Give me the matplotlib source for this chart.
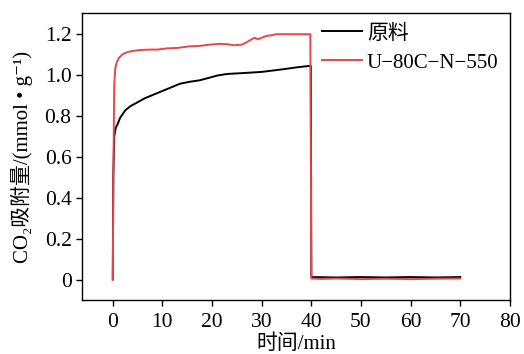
import matplotlib
matplotlib.use("Agg")
import matplotlib.pyplot as plt

plt.rcParams['font.family'] = ['Liberation Serif', 'Noto Sans CJK SC', 'DejaVu Serif']
plt.rcParams['axes.unicode_minus'] = True

# 原料 (raw material)
t_raw = [0, 0.1, 0.3, 0.6, 1.0, 1.5, 2.5, 3.5, 5, 6.5, 8, 9.5, 11.5, 13.5, 15.5,
         17.5, 19.5, 21, 23, 26, 30, 34, 37, 39.5, 39.9, 40.0, 45, 50, 55, 60, 65, 70]
q_raw = [0, 0.5, 0.70, 0.74, 0.76, 0.79, 0.825, 0.845, 0.865, 0.885, 0.90, 0.915,
         0.935, 0.955, 0.965, 0.972, 0.985, 0.995, 1.003, 1.007, 1.013, 1.025, 1.035,
         1.042, 1.042, 0.012, 0.010, 0.012, 0.010, 0.012, 0.010, 0.012]

# U-80C-N-550
t_mod = [0, 0.15, 0.3, 0.5, 0.8, 1.2, 2, 3, 4, 5.5, 7.5, 9, 11, 13, 15.5, 17.5, 19.5,
         21.5, 23, 24.5, 26, 27, 27.6, 28.6, 29.3, 30, 30.9, 32, 33, 36, 39.8, 40.0,
         42, 45, 50, 55, 60, 65, 70]
q_mod = [0, 0.6, 0.95, 1.03, 1.06, 1.08, 1.10, 1.11, 1.115, 1.12, 1.122, 1.122, 1.128,
         1.13, 1.138, 1.14, 1.146, 1.15, 1.148, 1.143, 1.146, 1.158, 1.167, 1.18, 1.172,
         1.18, 1.188, 1.192, 1.197, 1.197, 1.197, 0.005, 0.003, 0.005, 0.002, 0.004,
         0.002, 0.004, 0.005]

labels = ['原料', 'U\u221280C\u2212N\u2212550']
xticks = [0, 10, 20, 30, 40, 50, 60, 70, 80]
yticks = [0, 0.2, 0.4, 0.6, 0.8, 1.0, 1.2]
yticklabels = ['0', '0.2', '0.4', '0.6', '0.8', '1.0', '1.2']

fig = plt.figure(figsize=(5.24, 3.54), dpi=100)
ax = fig.add_axes([0.1565, 0.1525, 0.8165, 0.8105])

ax.plot(t_raw, q_raw, color='black', lw=1.4, label=labels[0])
ax.plot(t_mod, q_mod, color='#e8474c', lw=1.4, label=labels[1])

ax.set_xlim(-6.2, 80)
ax.set_ylim(-0.1, 1.3)
ax.set_xticks(xticks)
ax.set_yticks(yticks)
ax.set_yticklabels(yticklabels)
ax.tick_params(direction='out', length=4, width=1, labelsize=15.5, top=False, right=False)
ax.tick_params(axis='x', pad=5)
for s in ax.spines.values():
    s.set_linewidth(1)

ax.set_xlabel('时间/min', fontsize=15, labelpad=2)
ax.set_ylabel('CO\u2082吸附量/(mmol \u2022 g\u207b\u00b9)', fontsize=15, labelpad=8)

leg = fig.legend(loc='upper left', frameon=False, fontsize=15, handlelength=1.9,
                 handletextpad=0.25, labelspacing=0.45, borderpad=0, borderaxespad=0,
                 bbox_to_anchor=(322 / 524, 1 - 24 / 354))

fig.savefig('out.png', dpi=100)
